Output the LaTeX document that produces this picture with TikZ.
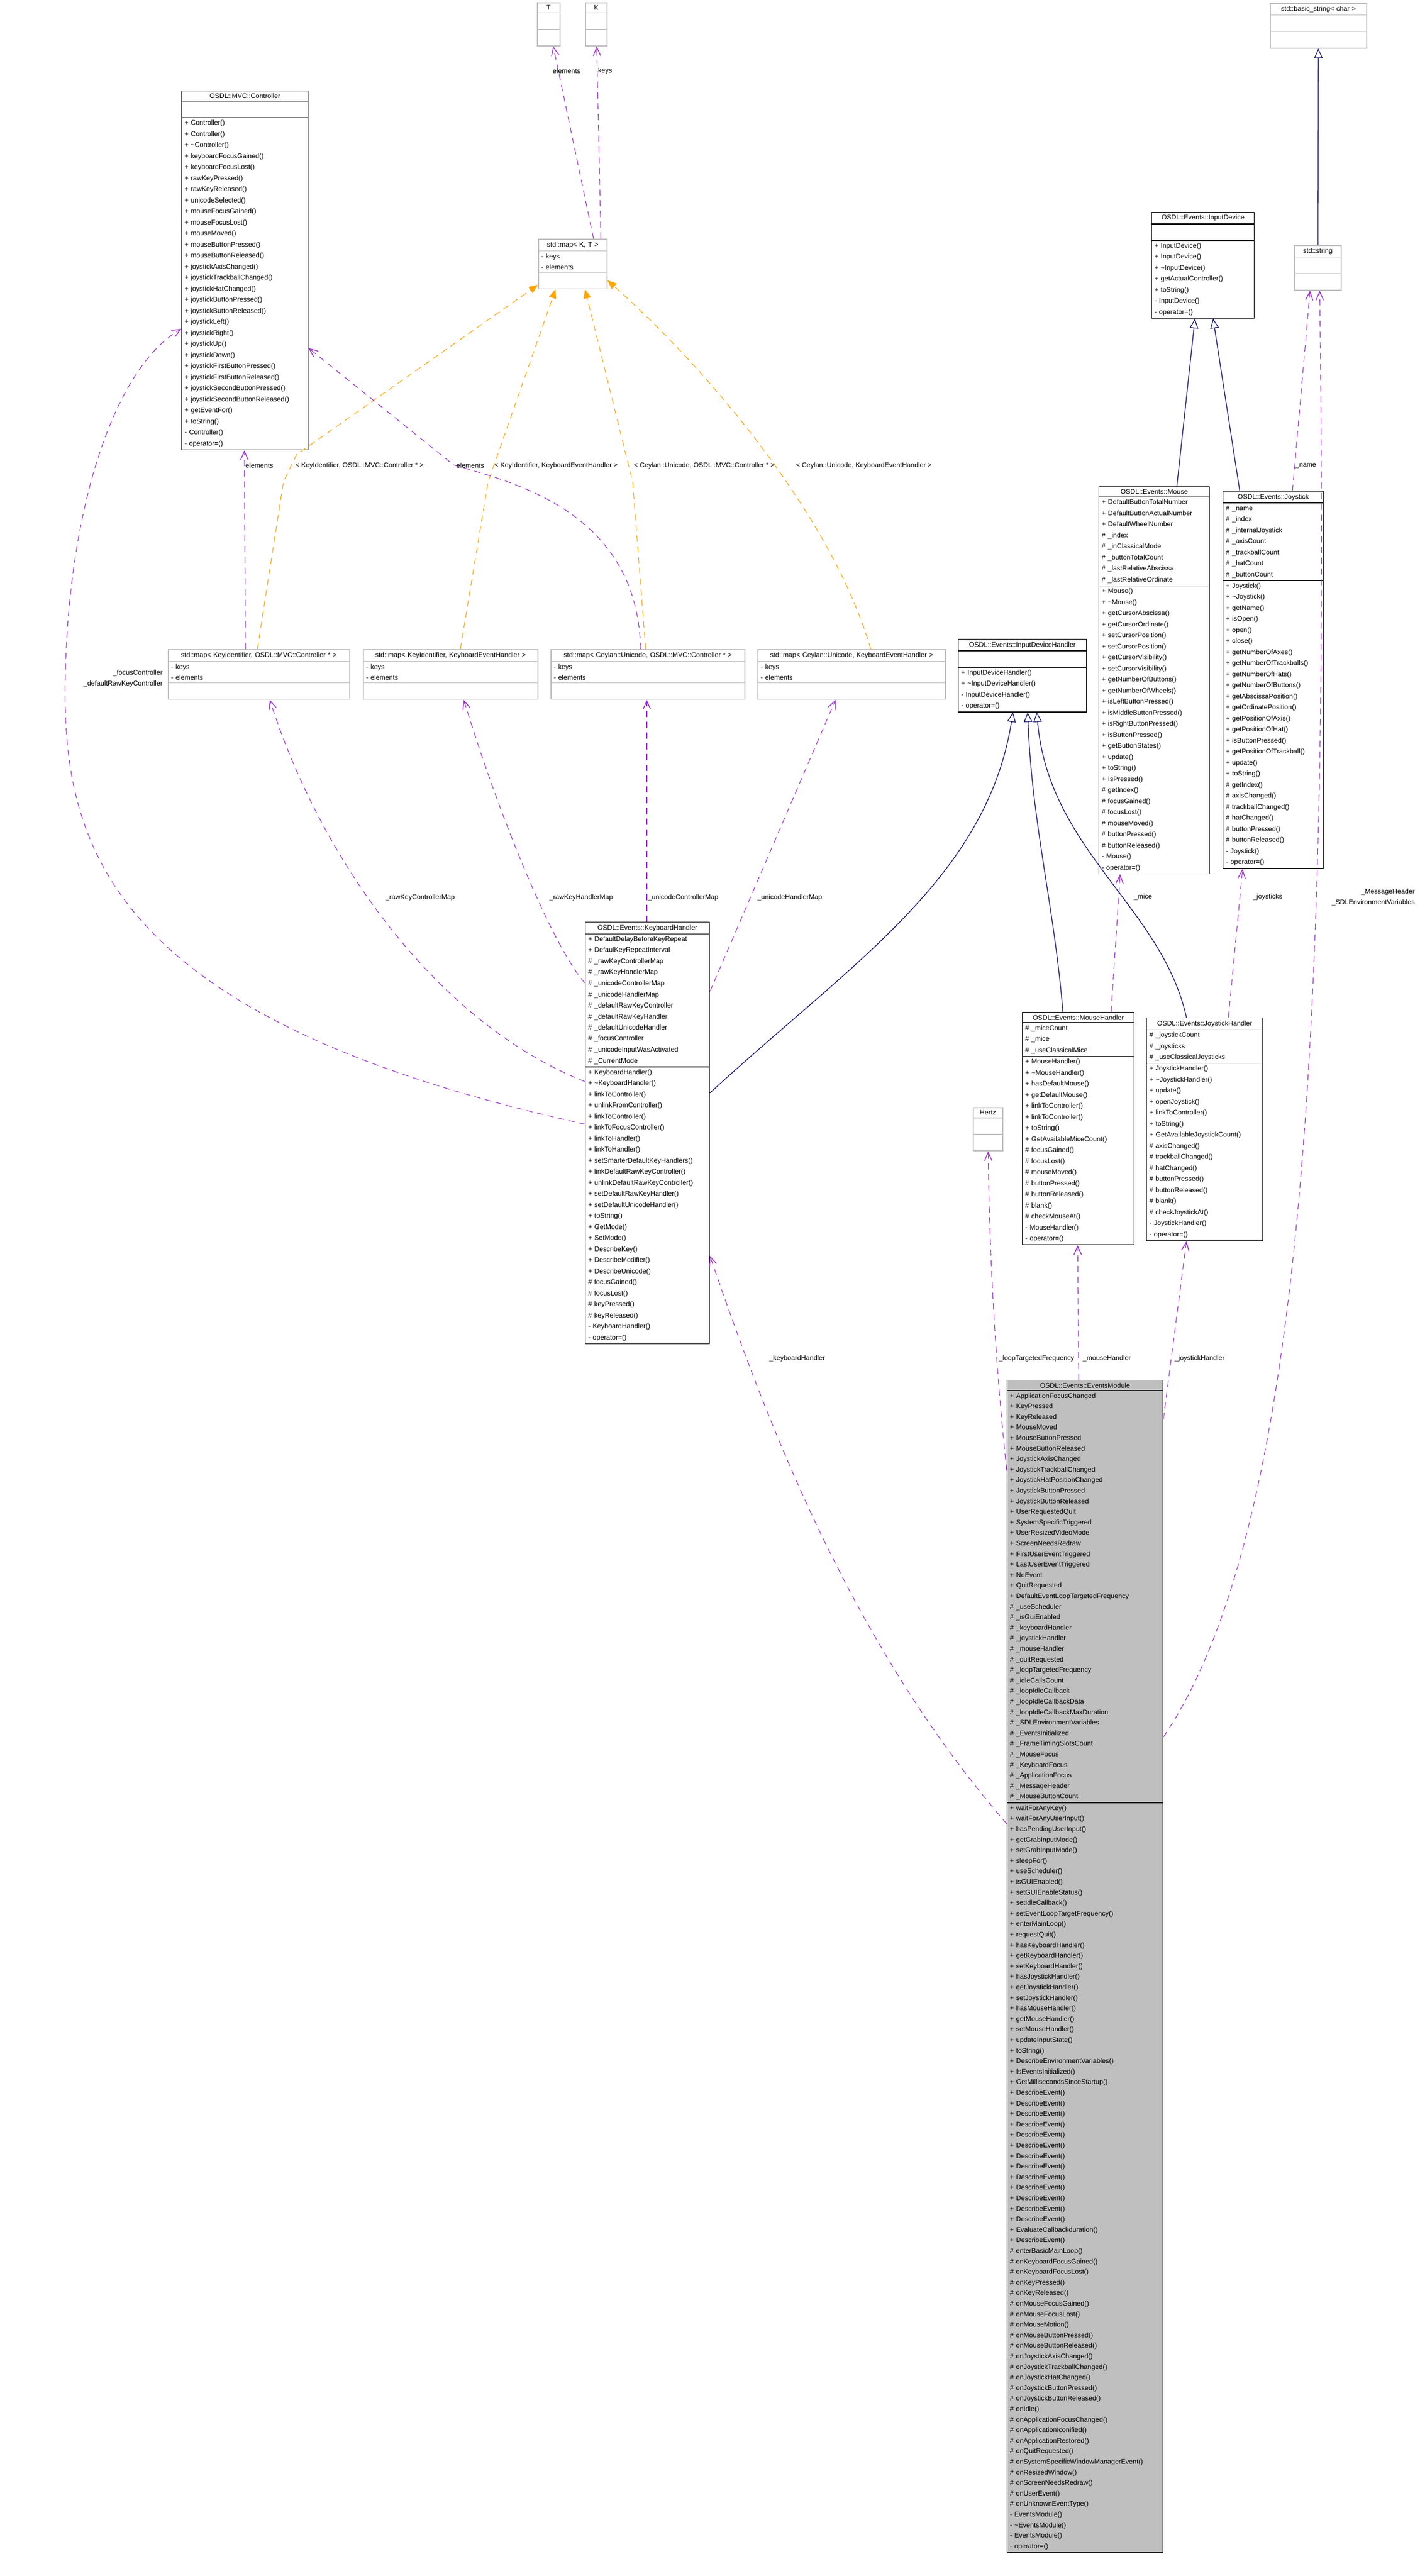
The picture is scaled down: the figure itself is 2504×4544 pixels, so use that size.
\documentclass[tikz,border=0pt]{standalone}
\usepackage{fontspec}
\setmainfont{Liberation Sans}
\usetikzlibrary{positioning}
\usetikzlibrary{calc}
\usetikzlibrary{arrows.meta}
\usetikzlibrary{shapes.multipart}
\definecolor{usecol}{HTML}{9A32CD}
\definecolor{instcol}{HTML}{FFA500}
\definecolor{inhcol}{HTML}{191970}
\definecolor{boxgrey}{HTML}{BFBFBF}
\tikzset{cls/.style={draw=black, line width=1.3pt, rectangle split, rectangle split parts=3,
  anchor=north west, align=left, inner xsep=5pt, inner ysep=4pt, fill=white,
  font=\fontsize{12}{19.5}\selectfont}}
\tikzset{tmpl/.style={cls, draw=boxgrey, line width=1.6pt}}
\tikzset{lbl/.style={anchor=west, inner sep=0pt, font=\fontsize{12}{19}\selectfont}}
\tikzset{usage/.style={draw=usecol, line width=1.1pt, dash pattern=on 11pt off 8pt,
  -{Straight Barb[length=15pt,width=13pt,line width=1.4pt]}}}
\tikzset{inst/.style={draw=instcol, line width=1.1pt, dash pattern=on 11pt off 8pt,
  -{Triangle[length=16pt,width=13pt]}}}
\tikzset{inh/.style={draw=inhcol, line width=1.3pt, -{Triangle[open,length=17pt,width=15pt,line width=1.3pt]}}}
\newcommand{\ctitle}[1]{\centering #1\par}

\begin{document}
\begin{tikzpicture}[x=1pt,y=-1pt]
\useasboundingbox (0,0) rectangle (2504,4544);

%%% templates at the top

\node[tmpl, text width=30pt] (T) at (947,4) {\ctitle{T}\nodepart{two}\strut\nodepart{three}\strut};
\node[tmpl, text width=28pt] (K) at (1032,4) {\ctitle{K}\nodepart{two}\strut\nodepart{three}\strut};
\node[tmpl, text width=111pt] (mapKT) at (949,421) {\ctitle{std::map< K, T >}
 \nodepart{two}- keys\\- elements\nodepart{three}\strut};
\node[tmpl, text width=160pt] (bstr) at (2240,5) {\ctitle{std::basic\_string< char >}\nodepart{two}\strut\nodepart{three}\strut};
\node[tmpl, text width=72pt] (str) at (2283,432) {\ctitle{std::string}\nodepart{two}\strut\nodepart{three}\strut};

\node[cls, text width=213pt] (ctl) at (320,160) {\ctitle{OSDL::MVC::Controller}\nodepart{two}\strut
 \nodepart{three}+ Controller()\\+ Controller()\\+ \textasciitilde Controller()\\+ keyboardFocusGained()\\
 + keyboardFocusLost()\\+ rawKeyPressed()\\+ rawKeyReleased()\\+ unicodeSelected()\\+ mouseFocusGained()\\
 + mouseFocusLost()\\+ mouseMoved()\\+ mouseButtonPressed()\\+ mouseButtonReleased()\\+ joystickAxisChanged()\\
 + joystickTrackballChanged()\\+ joystickHatChanged()\\+ joystickButtonPressed()\\+ joystickButtonReleased()\\
 + joystickLeft()\\+ joystickRight()\\+ joystickUp()\\+ joystickDown()\\+ joystickFirstButtonPressed()\\
 + joystickFirstButtonReleased()\\+ joystickSecondButtonPressed()\\+ joystickSecondButtonReleased()\\
 + getEventFor()\\+ toString()\\- Controller()\\- operator=()};

%%% devices

\node[cls, text width=171pt] (idev) at (2031,374) {\ctitle{OSDL::Events::InputDevice}\nodepart{two}\strut
 \nodepart{three}+ InputDevice()\\+ InputDevice()\\+ \textasciitilde InputDevice()\\+ getActualController()\\
 + toString()\\- InputDevice()\\- operator=()};

\node[cls, text width=185pt] (mouse) at (1938,858) {\ctitle{OSDL::Events::Mouse}
 \nodepart{two}+ DefaultButtonTotalNumber\\+ DefaultButtonActualNumber\\+ DefaultWheelNumber\\\# \_index\\
 \# \_inClassicalMode\\\# \_buttonTotalCount\\\# \_lastRelativeAbscissa\\\# \_lastRelativeOrdinate
 \nodepart{three}+ Mouse()\\+ \textasciitilde Mouse()\\+ getCursorAbscissa()\\+ getCursorOrdinate()\\
 + setCursorPosition()\\+ setCursorPosition()\\+ getCursorVisibility()\\+ setCursorVisibility()\\
 + getNumberOfButtons()\\+ getNumberOfWheels()\\+ isLeftButtonPressed()\\+ isMiddleButtonPressed()\\
 + isRightButtonPressed()\\+ isButtonPressed()\\+ getButtonStates()\\+ update()\\+ toString()\\+ IsPressed()\\
 \# getIndex()\\\# focusGained()\\\# focusLost()\\\# mouseMoved()\\\# buttonPressed()\\\# buttonReleased()\\
 - Mouse()\\- operator=()};

\node[cls, text width=167pt] (joy) at (2157,866) {\ctitle{OSDL::Events::Joystick}
 \nodepart{two}\# \_name\\\# \_index\\\# \_internalJoystick\\\# \_axisCount\\\# \_trackballCount\\\# \_hatCount\\\# \_buttonCount
 \nodepart{three}+ Joystick()\\+ \textasciitilde Joystick()\\+ getName()\\+ isOpen()\\+ open()\\+ close()\\
 + getNumberOfAxes()\\+ getNumberOfTrackballs()\\+ getNumberOfHats()\\+ getNumberOfButtons()\\
 + getAbscissaPosition()\\+ getOrdinatePosition()\\+ getPositionOfAxis()\\+ getPositionOfHat()\\
 + isButtonPressed()\\+ getPositionOfTrackball()\\+ update()\\+ toString()\\\# getIndex()\\\# axisChanged()\\
 \# trackballChanged()\\\# hatChanged()\\\# buttonPressed()\\\# buttonReleased()\\- Joystick()\\- operator=()};

%%% the four maps

\node[tmpl, text width=310pt] (mapKC) at (296,1145) {\ctitle{std::map< KeyIdentifier, OSDL::MVC::Controller * >}
 \nodepart{two}- keys\\- elements\nodepart{three}\strut};
\node[tmpl, text width=298pt] (mapKH) at (640,1145) {\ctitle{std::map< KeyIdentifier, KeyboardEventHandler >}
 \nodepart{two}- keys\\- elements\nodepart{three}\strut};
\node[tmpl, text width=332pt] (mapUC) at (971,1145) {\ctitle{std::map< Ceylan::Unicode, OSDL::MVC::Controller * >}
 \nodepart{two}- keys\\- elements\nodepart{three}\strut};
\node[tmpl, text width=321pt] (mapUH) at (1336,1145) {\ctitle{std::map< Ceylan::Unicode, KeyboardEventHandler >}
 \nodepart{two}- keys\\- elements\nodepart{three}\strut};

\node[cls, text width=216pt] (idh) at (1690,1127) {\ctitle{OSDL::Events::InputDeviceHandler}\nodepart{two}\strut
 \nodepart{three}+ InputDeviceHandler()\\+ \textasciitilde InputDeviceHandler()\\- InputDeviceHandler()\\- operator=()};

%%% handlers

\node[cls, text width=209pt] (kh) at (1032,1626) {\ctitle{OSDL::Events::KeyboardHandler}
 \nodepart{two}+ DefaultDelayBeforeKeyRepeat\\+ DefaulKeyRepeatInterval\\\# \_rawKeyControllerMap\\\# \_rawKeyHandlerMap\\
 \# \_unicodeControllerMap\\\# \_unicodeHandlerMap\\\# \_defaultRawKeyController\\\# \_defaultRawKeyHandler\\
 \# \_defaultUnicodeHandler\\\# \_focusController\\\# \_unicodeInputWasActivated\\\# \_CurrentMode
 \nodepart{three}+ KeyboardHandler()\\+ \textasciitilde KeyboardHandler()\\+ linkToController()\\+ unlinkFromController()\\
 + linkToController()\\+ linkToFocusController()\\+ linkToHandler()\\+ linkToHandler()\\+ setSmarterDefaultKeyHandlers()\\
 + linkDefaultRawKeyController()\\+ unlinkDefaultRawKeyController()\\+ setDefaultRawKeyHandler()\\
 + setDefaultUnicodeHandler()\\+ toString()\\+ GetMode()\\+ SetMode()\\+ DescribeKey()\\+ DescribeModifier()\\
 + DescribeUnicode()\\\# focusGained()\\\# focusLost()\\\# keyPressed()\\\# keyReleased()\\- KeyboardHandler()\\- operator=()};

\node[cls, text width=187pt] (mh) at (1803,1785) {\ctitle{OSDL::Events::MouseHandler}
 \nodepart{two}\# \_miceCount\\\# \_mice\\\# \_useClassicalMice
 \nodepart{three}+ MouseHandler()\\+ \textasciitilde MouseHandler()\\+ hasDefaultMouse()\\+ getDefaultMouse()\\
 + linkToController()\\+ linkToController()\\+ toString()\\+ GetAvailableMiceCount()\\\# focusGained()\\\# focusLost()\\
 \# mouseMoved()\\\# buttonPressed()\\\# buttonReleased()\\\# blank()\\\# checkMouseAt()\\- MouseHandler()\\- operator=()};

\node[cls, text width=195pt] (jh) at (2022,1795) {\ctitle{OSDL::Events::JoystickHandler}
 \nodepart{two}\# \_joystickCount\\\# \_joysticks\\\# \_useClassicalJoysticks
 \nodepart{three}+ JoystickHandler()\\+ \textasciitilde JoystickHandler()\\+ update()\\+ openJoystick()\\+ linkToController()\\
 + toString()\\+ GetAvailableJoystickCount()\\\# axisChanged()\\\# trackballChanged()\\\# hatChanged()\\\# buttonPressed()\\
 \# buttonReleased()\\\# blank()\\\# checkJoystickAt()\\- JoystickHandler()\\- operator=()};

\node[tmpl, text width=42pt] (hertz) at (1716,1953) {\ctitle{Hertz}\nodepart{two}\strut\nodepart{three}\strut};

%%% the module itself

\node[cls, fill=boxgrey, text width=265pt, font=\fontsize{12}{18.6}\selectfont] (em) at (1776,2434) {\ctitle{OSDL::Events::EventsModule}
 \nodepart{two}+ ApplicationFocusChanged\\+ KeyPressed\\+ KeyReleased\\+ MouseMoved\\+ MouseButtonPressed\\
 + MouseButtonReleased\\+ JoystickAxisChanged\\+ JoystickTrackballChanged\\+ JoystickHatPositionChanged\\
 + JoystickButtonPressed\\+ JoystickButtonReleased\\+ UserRequestedQuit\\+ SystemSpecificTriggered\\
 + UserResizedVideoMode\\+ ScreenNeedsRedraw\\+ FirstUserEventTriggered\\+ LastUserEventTriggered\\+ NoEvent\\
 + QuitRequested\\+ DefaultEventLoopTargetedFrequency\\\# \_useScheduler\\\# \_isGuiEnabled\\\# \_keyboardHandler\\
 \# \_joystickHandler\\\# \_mouseHandler\\\# \_quitRequested\\\# \_loopTargetedFrequency\\\# \_idleCallsCount\\
 \# \_loopIdleCallback\\\# \_loopIdleCallbackData\\\# \_loopIdleCallbackMaxDuration\\\# \_SDLEnvironmentVariables\\
 \# \_EventsInitialized\\\# \_FrameTimingSlotsCount\\\# \_MouseFocus\\\# \_KeyboardFocus\\\# \_ApplicationFocus\\
 \# \_MessageHeader\\\# \_MouseButtonCount
 \nodepart{three}+ waitForAnyKey()\\+ waitForAnyUserInput()\\+ hasPendingUserInput()\\+ getGrabInputMode()\\
 + setGrabInputMode()\\+ sleepFor()\\+ useScheduler()\\+ isGUIEnabled()\\+ setGUIEnableStatus()\\+ setIdleCallback()\\
 + setEventLoopTargetFrequency()\\+ enterMainLoop()\\+ requestQuit()\\+ hasKeyboardHandler()\\+ getKeyboardHandler()\\
 + setKeyboardHandler()\\+ hasJoystickHandler()\\+ getJoystickHandler()\\+ setJoystickHandler()\\+ hasMouseHandler()\\
 + getMouseHandler()\\+ setMouseHandler()\\+ updateInputState()\\+ toString()\\+ DescribeEnvironmentVariables()\\
 + IsEventsInitialized()\\+ GetMillisecondsSinceStartup()\\+ DescribeEvent()\\+ DescribeEvent()\\+ DescribeEvent()\\
 + DescribeEvent()\\+ DescribeEvent()\\+ DescribeEvent()\\+ DescribeEvent()\\+ DescribeEvent()\\+ DescribeEvent()\\
 + DescribeEvent()\\+ DescribeEvent()\\+ DescribeEvent()\\+ DescribeEvent()\\+ EvaluateCallbackduration()\\
 + DescribeEvent()\\\# enterBasicMainLoop()\\\# onKeyboardFocusGained()\\\# onKeyboardFocusLost()\\\# onKeyPressed()\\
 \# onKeyReleased()\\\# onMouseFocusGained()\\\# onMouseFocusLost()\\\# onMouseMotion()\\\# onMouseButtonPressed()\\
 \# onMouseButtonReleased()\\\# onJoystickAxisChanged()\\\# onJoystickTrackballChanged()\\\# onJoystickHatChanged()\\
 \# onJoystickButtonPressed()\\\# onJoystickButtonReleased()\\\# onIdle()\\\# onApplicationFocusChanged()\\
 \# onApplicationIconified()\\\# onApplicationRestored()\\\# onQuitRequested()\\\# onSystemSpecificWindowManagerEvent()\\
 \# onResizedWindow()\\\# onScreenNeedsRedraw()\\\# onUserEvent()\\\# onUnknownEventType()\\- EventsModule()\\
 - \textasciitilde EventsModule()\\- EventsModule()\\- operator=()};

%%% inheritance

\draw[inh] (str) -- (bstr);
\draw[inh] ($(mouse.north west)+(138,0)$) -- ($(idev.south west)+(77,0)$);
\draw[inh] ($(joy.north west)+(30,0)$) -- ($(idev.south west)+(109,0)$);
\draw[inh] ($(kh.north east)+(0,302)$) .. controls (1500,1700) and (1740,1550) .. ($(idh.south west)+(97,0)$);
\draw[inh] ($(mh.north west)+(72,0)$) .. controls (1860,1600) and (1820,1450) .. ($(idh.south west)+(123,0)$);
\draw[inh] ($(jh.north west)+(71,0)$) .. controls (2050,1600) and (1850,1500) .. ($(idh.south west)+(139,0)$);

%%% template instances

\draw[inst] ($(mapKC.north west)+(158,0)$) -- (500,850) -- (523,802) -- ($(mapKT.south west)+(0,-8)$);
\draw[inst] ($(mapKH.north west)+(172,0)$) -- (861,850) -- ($(mapKT.south west)+(31,0)$);
\draw[inst] ($(mapUC.north west)+(168,0)$) -- (1116,850) -- ($(mapKT.south west)+(83,0)$);
\draw[inst] ($(mapUH.north west)+(200,0)$) .. controls (1480,950) and (1300,700) .. ($(mapKT.south east)+(0,-16)$);
\node[lbl] (iKC) at (521,821) {< KeyIdentifier, OSDL::MVC::Controller * >};
\node[lbl] (iKH) at (872,821) {< KeyIdentifier, KeyboardEventHandler >};
\node[lbl] (iUC) at (1118,821) {< Ceylan::Unicode, OSDL::MVC::Controller * >};
\node[lbl] (iUH) at (1404,821) {< Ceylan::Unicode, KeyboardEventHandler >};

%%% usage

\draw[usage] ($(mapKT.north west)+(98,0)$) -- (T);
\draw[usage] ($(mapKT.north west)+(111,0)$) -- (K);
\node[lbl] (lT) at (975,125) {elements};
\node[lbl] (lK) at (1055,125) {keys};

\draw[usage] ($(mapKC.north west)+(137,0)$) -- ($(ctl.south west)+(111,0)$);
\node[lbl] (lKC) at (433,821) {elements};
\draw[usage] ($(mapUC.north west)+(159,0)$) .. controls (1125,900) and (900,850) .. (800,820) -- ($(ctl.north east)+(0,454)$);
\node[lbl] (lUC) at (805,821) {elements};

\draw[usage] ($(kh.north west)+(0,357)$) .. controls (200,1800) and (110,1500) .. (115,1200)
 .. controls (120,900) and (200,650) .. ($(ctl.north west)+(0,420)$);
\node[lbl, anchor=east, align=right, font=\fontsize{12}{19}\selectfont] (lfc) at (287,1197) {\_focusController\\\_defaultRawKeyController};

\draw[usage] ($(kh.north west)+(0,282)$) .. controls (760,1800) and (560,1500) .. ($(mapKC.south west)+(180,0)$);
\draw[usage] ($(kh.north west)+(0,108)$) .. controls (990,1690) and (900,1500) .. ($(mapKH.south west)+(178,0)$);
\draw[usage] ($(kh.north west)+(109,0)$) -- ($(mapUC.south west)+(170,0)$);
\draw[usage] ($(kh.north east)+(0,123)$) -- ($(mapUH.south west)+(138,0)$);
\node[lbl] (lrc) at (680,1583) {\_rawKeyControllerMap};
\node[lbl] (lrh) at (969,1583) {\_rawKeyHandlerMap};
\node[lbl] (luc) at (1143,1583) {\_unicodeControllerMap};
\node[lbl] (luh) at (1336,1583) {\_unicodeHandlerMap};

\draw[usage] ($(mh.north west)+(157,0)$) -- ($(mouse.south west)+(38,0)$);
\node[lbl] (lmi) at (2000,1582) {\_mice};
\draw[usage] ($(jh.north west)+(145,0)$) -- ($(joy.south west)+(35,0)$);
\node[lbl] (ljo) at (2210,1582) {\_joysticks};
\draw[usage] ($(joy.north west)+(123,0)$) -- ($(str.south west)+(28,0)$);
\node[lbl] (lna) at (2285,821) {\_name};
\draw[usage] ($(em.north east)+(0,630)$) .. controls (2300,2700) and (2345,1800) .. ($(str.south west)+(45,0)$);
\node[lbl, anchor=east, align=right] (lmh) at (2496,1583) {\_MessageHeader\\\_SDLEnvironmentVariables};

\draw[usage] ($(em.north west)+(127,0)$) -- ($(mh.south west)+(98,0)$);
\draw[usage] ($(em.north east)+(0,69)$) -- ($(jh.south west)+(71,0)$);
\draw[usage] ($(em.north west)+(0,160)$) .. controls (1755,2400) and (1745,2200) .. (hertz);
\draw[usage] ($(em.north west)+(0,783)$) .. controls (1500,2900) and (1350,2500) .. ($(kh.south east)+(0,-156)$);
\node[lbl] (lkh) at (1357,2396) {\_keyboardHandler};
\node[lbl] (llt) at (1762,2396) {\_loopTargetedFrequency};
\node[lbl] (lmo) at (1910,2396) {\_mouseHandler};
\node[lbl] (ljh) at (2072,2396) {\_joystickHandler};
\end{tikzpicture}
\end{document}
